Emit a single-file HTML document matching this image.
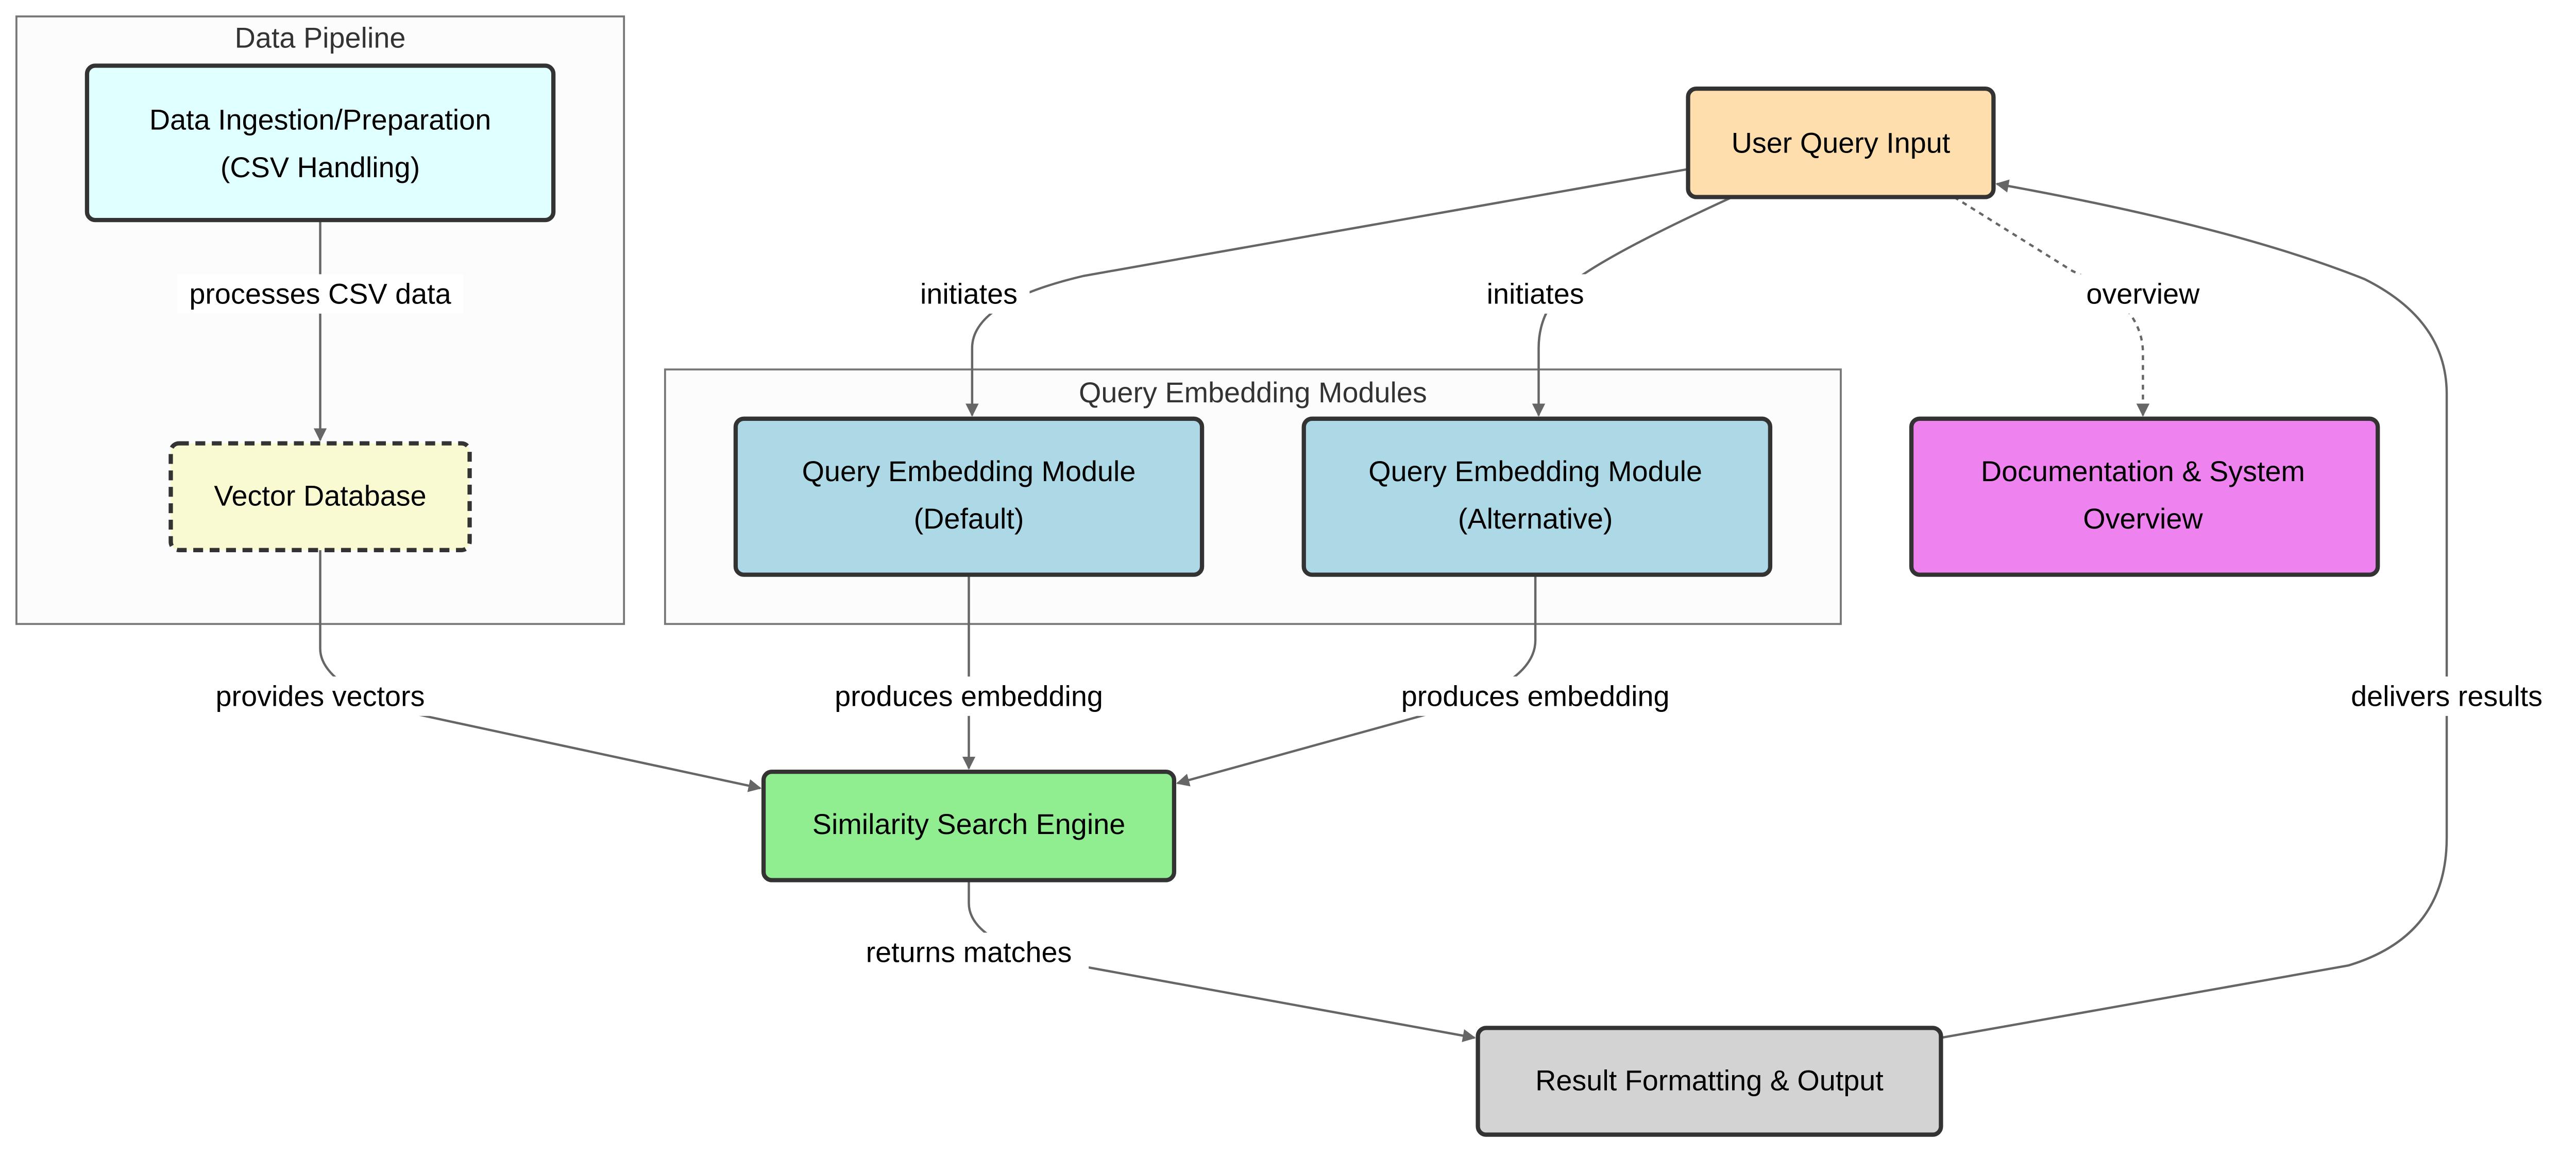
<!DOCTYPE html>
<html><head><meta charset="utf-8"><style>
html,body{margin:0;padding:0;background:#fff;}
svg{display:block;}
text{font-family:"Liberation Sans",sans-serif;font-size:17.5px;fill:#000;text-anchor:middle;dominant-baseline:central;}
.ct{fill:#333;}
.n{stroke:#333;stroke-width:2.6;}
.e{fill:none;stroke:#666;stroke-width:1.4;}
</style></head><body>
<svg width="5020" height="2244" viewBox="0 0 1575 704" preserveAspectRatio="none" xmlns="http://www.w3.org/2000/svg">
<defs>
<marker id="a" viewBox="0 0 10 10" refX="9" refY="5" markerWidth="8" markerHeight="8" markerUnits="userSpaceOnUse" orient="auto">
<path d="M0,0 L10,5 L0,10 z" fill="#666"/></marker>
</defs>
<rect width="1575" height="704" fill="#fff"/>
<!-- clusters -->
<rect x="10" y="10" width="370" height="370" fill="#fcfcfc" stroke="#777" stroke-width="1.2"/>
<text x="195" y="23" class="ct">Data Pipeline</text>
<rect x="405" y="225" width="716" height="155" fill="#fcfcfc" stroke="#777" stroke-width="1.2"/>
<text x="763" y="239" class="ct">Query Embedding Modules</text>

<!-- edges -->
<path class="e" d="M195,134 L195,268" marker-end="url(#a)"/>
<path class="e" d="M1028,103 L660,168 Q592,184 592,212 L592,253" marker-end="url(#a)"/>
<path class="e" d="M1055,120 Q985,152 960,170 Q937,186 937,212 L937,253" marker-end="url(#a)"/>
<path class="e" d="M1190,120 L1262,165 Q1305,185 1305,215 L1305,253" stroke-dasharray="3,3" marker-end="url(#a)"/>
<path class="e" d="M1182,632 L1430,588 Q1490,570 1490,510 L1490,240 Q1490,195 1440,170 Q1360,138 1216,112" marker-end="url(#a)"/>
<path class="e" d="M195,335 L195,395 Q195,415 240,432 L463,480" marker-end="url(#a)"/>
<path class="e" d="M590,350 L590,468" marker-end="url(#a)"/>
<path class="e" d="M935,350 L935,390 Q935,415 880,432 L717,477" marker-end="url(#a)"/>
<path class="e" d="M590,536 L590,550 Q590,572 640,585 L898,632" marker-end="url(#a)"/>

<!-- edge labels -->
<rect x="108" y="167" width="174" height="24" fill="#fff"/><text x="195" y="179">processes CSV data</text>
<rect x="553" y="167" width="74" height="24" fill="#fff"/><text x="590" y="179">initiates</text>
<rect x="898" y="167" width="74" height="24" fill="#fff"/><text x="935" y="179">initiates</text>
<rect x="1263" y="167" width="84" height="24" fill="#fff"/><text x="1305" y="179">overview</text>
<rect x="1422" y="412" width="138" height="24" fill="#fff"/><text x="1490" y="424">delivers results</text>
<rect x="121" y="412" width="148" height="24" fill="#fff"/><text x="195" y="424">provides vectors</text>
<rect x="497" y="412" width="186" height="24" fill="#fff"/><text x="590" y="424">produces embedding</text>
<rect x="842" y="412" width="186" height="24" fill="#fff"/><text x="935" y="424">produces embedding</text>
<rect x="517" y="568" width="146" height="24" fill="#fff"/><text x="590" y="580">returns matches</text>

<!-- nodes -->
<rect class="n" x="53" y="40" width="284" height="94" rx="5" fill="#e0ffff"/>
<text x="195" y="73">Data Ingestion/Preparation</text><text x="195" y="102">(CSV Handling)</text>
<rect class="n" x="104" y="270" width="182" height="65" rx="5" fill="#fafad2" stroke-dasharray="6,4"/>
<text x="195" y="302">Vector Database</text>
<rect class="n" x="448" y="255" width="284" height="95" rx="5" fill="#add8e6"/>
<text x="590" y="287">Query Embedding Module</text><text x="590" y="316">(Default)</text>
<rect class="n" x="794" y="255" width="284" height="95" rx="5" fill="#add8e6"/>
<text x="935" y="287">Query Embedding Module</text><text x="935" y="316">(Alternative)</text>
<rect class="n" x="1028" y="54" width="186" height="66" rx="5" fill="#ffdead"/>
<text x="1121" y="87">User Query Input</text>
<rect class="n" x="1164" y="255" width="284" height="95" rx="5" fill="#ee82ee"/>
<text x="1305" y="287">Documentation &amp; System</text><text x="1305" y="316">Overview</text>
<rect class="n" x="465" y="470" width="250" height="66" rx="5" fill="#90ee90"/>
<text x="590" y="502">Similarity Search Engine</text>
<rect class="n" x="900" y="626" width="282" height="65" rx="5" fill="#d3d3d3"/>
<text x="1041" y="658">Result Formatting &amp; Output</text>
</svg>
</body></html>
